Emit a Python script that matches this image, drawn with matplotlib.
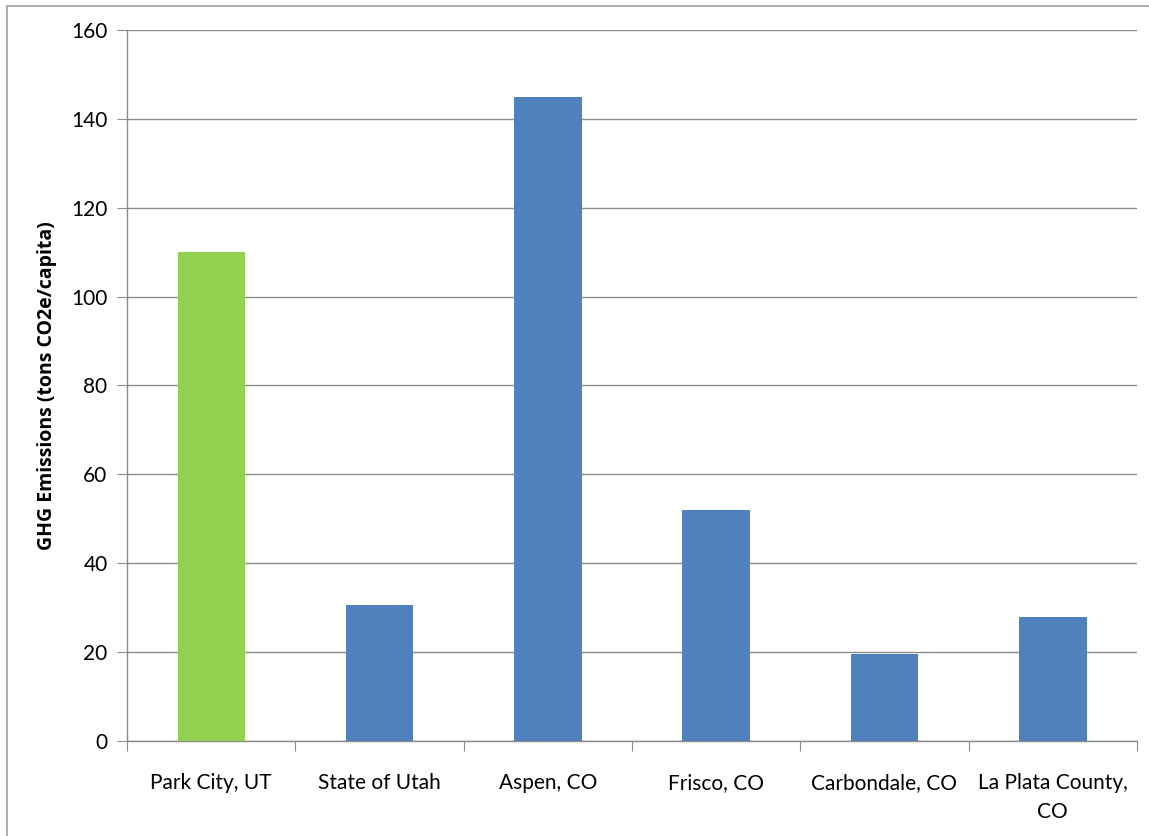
import matplotlib
matplotlib.use("Agg")
import matplotlib.pyplot as plt
from matplotlib.patches import Rectangle

categories = ["Park City, UT", "State of Utah", "Aspen, CO", "Frisco, CO",
              "Carbondale, CO", "La Plata County,\nCO"]
values = [110, 30.5, 145, 52, 19.6, 28]
colors = ["#92D050", "#4F81BD", "#4F81BD", "#4F81BD", "#4F81BD", "#4F81BD"]
yticks = [0, 20, 40, 60, 80, 100, 120, 140, 160]

plt.rcParams['font.family'] = ['Lato', 'DejaVu Sans']

W, H = 1149, 836
fig = plt.figure(figsize=(W / 100, H / 100), dpi=100)
ax = fig.add_axes([127 / W, 1 - 741 / H, (1137 - 127) / W, (741 - 30) / H])

x = list(range(len(categories)))
ax.bar(x, values, width=0.4, color=colors, zorder=3)
ax.set_xlim(-0.5, len(categories) - 0.5)
ax.set_ylim(0, 160)
ax.set_yticks(yticks)
ax.set_yticklabels([str(t) for t in yticks], fontsize=15)
ax.yaxis.grid(True, color="#8C8C8C", linewidth=1, zorder=0)
ax.set_axisbelow(True)

ax.set_xticks([i - 0.5 for i in range(len(categories) + 1)])
ax.set_xticklabels([])
ax.set_xticks(x, minor=True)
ax.set_xticklabels(categories, minor=True, fontsize=15, linespacing=1.55)
ax.tick_params(axis='x', which='minor', length=0, pad=23)
ax.tick_params(axis='x', which='major', length=7, color="#8C8C8C", direction='out')
ax.tick_params(axis='y', length=7, color="#8C8C8C", direction='out', pad=7)

for s in ["top", "right"]:
    ax.spines[s].set_visible(False)
for s in ["left", "bottom"]:
    ax.spines[s].set_color("#8C8C8C")
    ax.spines[s].set_linewidth(1)

ax.set_ylabel("GHG Emissions (tons CO2e/capita)", fontsize=14, fontweight='bold',
              family=['Open Sans', 'DejaVu Sans'], labelpad=10)

fig.patches.append(Rectangle((7 / W, -0.1), 1.2, 1 - 6 / H + 0.1, transform=fig.transFigure,
                             fill=False, edgecolor="#A0A0A0", linewidth=1.2))

fig.savefig("out.png", dpi=100)
